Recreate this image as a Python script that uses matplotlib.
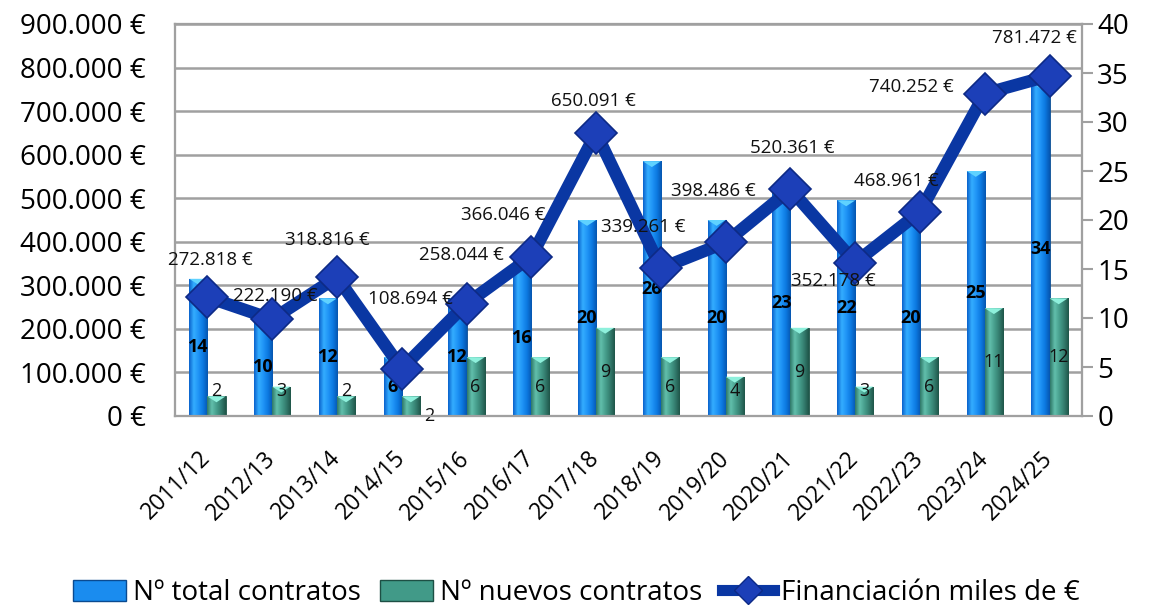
import numpy as np
import matplotlib.pyplot as plt
from matplotlib.colors import LinearSegmentedColormap
from matplotlib.lines import Line2D
from matplotlib.patches import Patch, Polygon

plt.rcParams['font.family'] = ['Open Sans', 'DejaVu Sans']

cursos = ['2011/12', '2012/13', '2013/14', '2014/15', '2015/16', '2016/17', '2017/18',
          '2018/19', '2019/20', '2020/21', '2021/22', '2022/23', '2023/24', '2024/25']
total_contratos = [14, 10, 12, 6, 12, 16, 20, 26, 20, 23, 22, 20, 25, 34]
nuevos_contratos = [2, 3, 2, 2, 6, 6, 9, 6, 4, 9, 3, 6, 11, 12]
financiacion = [272818, 222190, 318816, 108694, 258044, 366046, 650091,
                339261, 398486, 520361, 352178, 468961, 740252, 781472]

# label offsets for the line values (points)
fin_offsets = [(2, 27), (2, 17), (-7, 27), (6, 50), (-4, 35), (-20, 30), (-2, 23),
               (-13, 30), (-9, 37), (1, 30), (-16, -13), (-17, 22), (-53, 5), (-11, 27)]

def euro(v):
    return f'{v:,.0f} €'.replace(',', '.')

fig = plt.figure(figsize=(11.53, 6.05), dpi=100)
ax = fig.add_axes([175/1153, 1 - 416/605, 907/1153, 392/605])
ax2 = ax.twinx()
ax3 = ax.twinx()

x = np.arange(len(cursos))
w = 0.28

# grid on the left-scale axis (behind bars)
ax.set_xlim(-0.5, len(cursos) - 0.5)
ax.set_ylim(0, 900000)
ax.set_yticks(np.arange(0, 900001, 100000))
ax.set_yticklabels([euro(v) for v in np.arange(0, 900001, 100000)])
ax.yaxis.grid(True, color='#a0a0a0', linewidth=1.8)
ax.set_axisbelow(True)
ax.tick_params(axis='y', length=0, pad=21, labelsize=20)
ax.tick_params(axis='x', length=0, pad=28, labelsize=16.5)
ax.set_xticks(x)
ax.set_xticklabels(cursos, rotation=45, ha='right', va='center', rotation_mode='anchor')

blue_cmap = LinearSegmentedColormap.from_list('b', ['#0a62cc', '#34adff', '#1f94f6', '#0c78e0', '#0656b0'])
green_cmap = LinearSegmentedColormap.from_list('g', ['#2f7868', '#62bfac', '#479f8d', '#347d6e', '#1f5549'])
grad = np.linspace(0, 1, 64).reshape(1, -1)

bars1 = ax2.bar(x - w/2, total_contratos, w, color='#1a8cef', edgecolor='#0a4a90', linewidth=0.6, zorder=2)
bars2 = ax2.bar(x + w/2, nuevos_contratos, w, color='#419a88', edgecolor='#1d4f44', linewidth=0.6, zorder=2)
for bars, cm, cap in ((bars1, blue_cmap, '#5fd2ff'), (bars2, green_cmap, '#8ef0dc')):
    for b in bars:
        bx, bw, bh = b.get_x(), b.get_width(), b.get_height()
        im = ax2.imshow(grad, extent=[bx, bx + bw, 0, bh], aspect='auto', cmap=cm, zorder=2.5)
        im.set_clip_path(b)
        # light bevel on the top of each bar
        ax2.add_patch(Polygon([(bx, bh), (bx + bw, bh), (bx + bw/2, bh - 0.6)],
                              closed=True, facecolor=cap, edgecolor='none', zorder=2.6))
ax2.set_xlim(-0.5, len(cursos) - 0.5)
ax2.set_ylim(0, 40)
ax2.set_yticks(range(0, 41, 5))
ax2.tick_params(axis='y', length=8, width=1.5, color='#a0a0a0', pad=3, labelsize=20)

for xi, v in zip(x, total_contratos):
    ax2.text(xi - w/2, v/2, str(v), ha='center', va='center', fontsize=13,
             fontweight='bold', color='black', zorder=5)
for i, (xi, v) in enumerate(zip(x, nuevos_contratos)):
    if cursos[i] == '2014/15':
        ax2.text(xi + w/2 + 0.29, 0, str(v), ha='center', va='center', fontsize=13, color='#111111', zorder=5)
    else:
        ax2.text(xi + w/2, max(v/2, 2.5), str(v), ha='center', va='center', fontsize=13,
                 color='#111111', zorder=5)

# line on top, left scale
ax3.set_ylim(0, 900000)
ax3.set_yticks([])
ax3.plot(x, financiacion, color='#0a37a3', linewidth=9, marker='D', markersize=21,
         markerfacecolor='#1c3fb8', markeredgecolor='#0d2a86', markeredgewidth=1.2,
         solid_joinstyle='miter', zorder=4)
for xi, v, (dx, dy) in zip(x, financiacion, fin_offsets):
    ax3.annotate(euro(v), (xi, v), xytext=(dx, dy), textcoords='offset points',
                 ha='center', va='center', fontsize=13.5, color='#111111', zorder=6)

for a in (ax, ax2, ax3):
    for s in a.spines.values():
        s.set_color('#a0a0a0')
        s.set_linewidth(1.5)

handles = [Patch(facecolor='#1a8cef', edgecolor='#0a4a90'),
           Patch(facecolor='#419a88', edgecolor='#1d4f44'),
           Line2D([0], [0], color='#0a37a3', linewidth=8, marker='D', markersize=14,
                  markerfacecolor='#1c3fb8', markeredgecolor='#0d2a86')]
fig.legend(handles, ['Nº total contratos', 'Nº nuevos contratos', 'Financiación miles de €'],
           loc='lower center', bbox_to_anchor=(0.5, -0.045), ncol=3, frameon=False,
           fontsize=20, handlelength=1.9, handleheight=0.75, handletextpad=0.25, columnspacing=0.7)

fig.savefig('out.png', dpi=100)
